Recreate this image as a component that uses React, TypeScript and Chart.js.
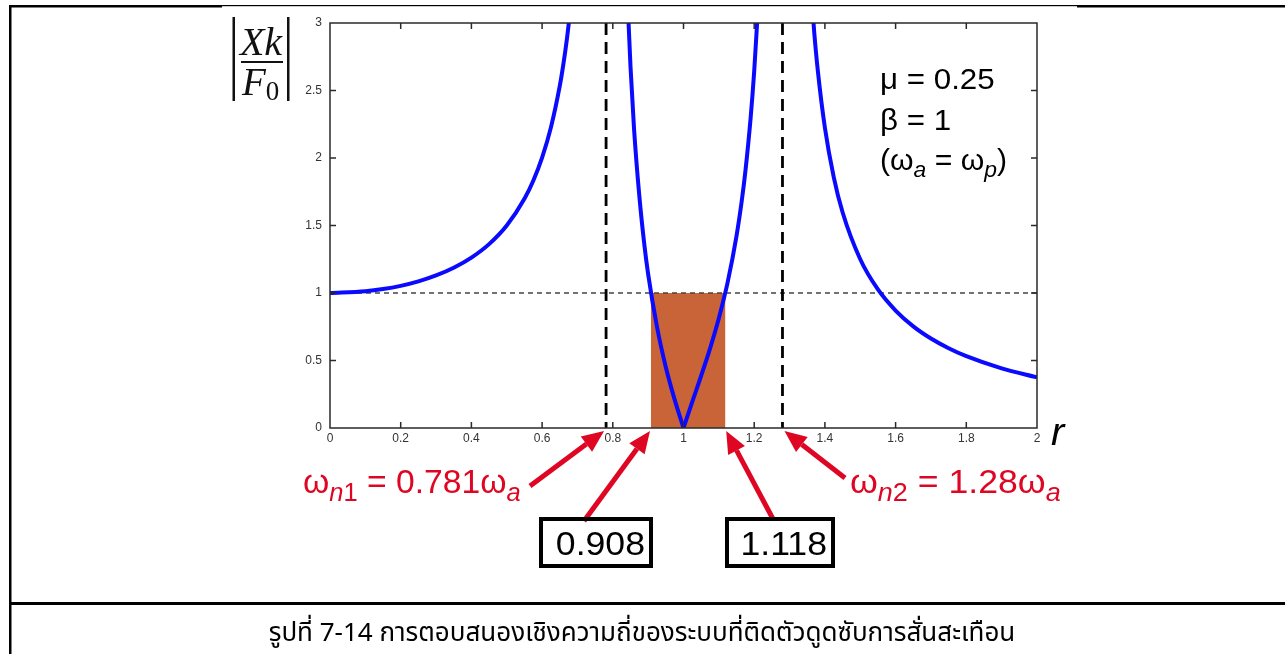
import React, { useEffect, useRef } from "react";
import { Chart, registerables } from "chart.js";

Chart.register(...registerables);

const PAGE_W = 1285;
const PAGE_H = 654;

// Frequency ratio r = ω/ωp and amplitude |Xk/F0|, one array pair per branch
const rLow = [0, 0.1, 0.15, 0.2, 0.25, 0.3, 0.35, 0.4, 0.45, 0.5, 0.55, 0.575, 0.6, 0.625, 0.65, 0.66, 0.67, 0.68];
const ampLow = [1.0, 1.013, 1.029, 1.053, 1.086, 1.13, 1.187, 1.262, 1.362, 1.5, 1.698, 1.832, 2.003, 2.227, 2.534, 2.692, 2.878, 3.1];
const rMidFall = [0.84, 0.85, 0.86, 0.875, 0.89, 0.9, 0.925, 0.95, 0.975, 1.0];
const ampMidFall = [3.28, 2.68, 2.22, 1.72, 1.34, 1.14, 0.75, 0.45, 0.21, 0];
const rMidRise = [1.0, 1.025, 1.05, 1.075, 1.1, 1.125, 1.15, 1.165, 1.175, 1.19, 1.2, 1.21];
const ampMidRise = [0, 0.195, 0.387, 0.588, 0.813, 1.08, 1.423, 1.687, 1.9, 2.3, 2.644, 3.08];
const rHigh = [1.36, 1.37, 1.38, 1.4, 1.425, 1.45, 1.5, 1.55, 1.6, 1.65, 1.7, 1.75, 1.8, 1.9, 2.0];
const ampHigh = [3.275, 2.925, 2.646, 2.224, 1.859, 1.598, 1.25, 1.026, 0.87, 0.753, 0.663, 0.591, 0.532, 0.442, 0.375];

// Axis ticks
const rTicks = [0, 0.2, 0.4, 0.6, 0.8, 1, 1.2, 1.4, 1.6, 1.8, 2];
const ampTicks = [0, 0.5, 1, 1.5, 2, 2.5, 3];

// Natural frequencies ωn1/ωa, ωn2/ωa and the band where |Xk/F0| ≤ 1
const naturalFreqs = [0.781, 1.28];
const naturalLabels = ["0.781", "1.28"];
const bandEdges = [0.908, 1.118];
const bandLevel = 1;

const RED = "#de0623";
const BLUE = "#0a0aff";
const SANS = "'Liberation Sans', Arial, Helvetica, sans-serif";
const SERIF = "'Liberation Serif', 'Times New Roman', serif";

const pts = (xs: number[], ys: number[]) => xs.map((x, i) => ({ x, y: ys[i] }));

type Run = { t: string; f: string; dy?: number };

// Draws a sequence of differently styled text runs; sx widens glyphs horizontally
function drawRuns(ctx: CanvasRenderingContext2D, runs: Run[], x: number, y: number, color: string, sx = 1) {
  ctx.save();
  ctx.translate(x, y);
  ctx.scale(sx, 1);
  ctx.fillStyle = color;
  ctx.textAlign = "left";
  ctx.textBaseline = "alphabetic";
  let cx = 0;
  for (const r of runs) {
    ctx.font = r.f;
    ctx.fillText(r.t, cx, r.dy || 0);
    cx += ctx.measureText(r.t).width;
  }
  ctx.restore();
  return cx * sx;
}

function arrow(ctx: CanvasRenderingContext2D, x1: number, y1: number, x2: number, y2: number) {
  const ang = Math.atan2(y2 - y1, x2 - x1);
  const headLen = 22;
  const headHalf = 9.5;
  const bx = x2 - headLen * Math.cos(ang);
  const by = y2 - headLen * Math.sin(ang);
  ctx.save();
  ctx.strokeStyle = RED;
  ctx.fillStyle = RED;
  ctx.lineWidth = 5;
  ctx.lineCap = "butt";
  ctx.beginPath();
  ctx.moveTo(x1, y1);
  ctx.lineTo(bx, by);
  ctx.stroke();
  ctx.beginPath();
  ctx.moveTo(x2, y2);
  ctx.lineTo(bx + headHalf * Math.sin(ang), by - headHalf * Math.cos(ang));
  ctx.lineTo(bx - headHalf * Math.sin(ang), by + headHalf * Math.cos(ang));
  ctx.closePath();
  ctx.fill();
  ctx.restore();
}

const figurePlugin = {
  id: "figureDecor",
  beforeDatasetsDraw(chart: any) {
    const { ctx, chartArea: a, scales } = chart;
    const xs = scales.x;
    const ys = scales.y;
    ctx.save();
    // band between the two crossings of |Xk/F0| = 1
    ctx.fillStyle = "#c96438";
    const bx0 = xs.getPixelForValue(bandEdges[0]);
    const bx1 = xs.getPixelForValue(bandEdges[1]);
    const by0 = ys.getPixelForValue(0);
    const by1 = ys.getPixelForValue(bandLevel);
    ctx.fillRect(bx0, by1, bx1 - bx0, by0 - by1);
    // reference level |Xk/F0| = 1
    ctx.strokeStyle = "#444";
    ctx.lineWidth = 1.3;
    ctx.setLineDash([5, 4]);
    ctx.beginPath();
    ctx.moveTo(a.left, by1);
    ctx.lineTo(a.right, by1);
    ctx.stroke();
    // natural frequencies
    ctx.strokeStyle = "#000";
    ctx.lineWidth = 2.8;
    ctx.setLineDash([12, 7]);
    for (const f of naturalFreqs) {
      const px = xs.getPixelForValue(f);
      ctx.beginPath();
      ctx.moveTo(px, a.top);
      ctx.lineTo(px, a.bottom);
      ctx.stroke();
    }
    ctx.restore();
  },
  afterDatasetsDraw(chart: any) {
    const { ctx, chartArea: a, scales } = chart;
    const xs = scales.x;
    const ys = scales.y;
    ctx.save();
    ctx.strokeStyle = "#2a2a2a";
    ctx.lineWidth = 1.5;
    ctx.setLineDash([]);
    ctx.strokeRect(a.left, a.top, a.right - a.left, a.bottom - a.top);
    ctx.beginPath();
    for (const t of rTicks.slice(1, -1)) {
      const px = xs.getPixelForValue(t);
      ctx.moveTo(px, a.bottom);
      ctx.lineTo(px, a.bottom - 6);
      ctx.moveTo(px, a.top);
      ctx.lineTo(px, a.top + 6);
    }
    for (const t of ampTicks.slice(1, -1)) {
      const py = ys.getPixelForValue(t);
      ctx.moveTo(a.left, py);
      ctx.lineTo(a.left + 6, py);
      ctx.moveTo(a.right, py);
      ctx.lineTo(a.right - 6, py);
    }
    ctx.stroke();
    ctx.restore();
  },
  afterDraw(chart: any) {
    const { ctx, chartArea: a, scales } = chart;
    const xs = scales.x;
    const y0 = scales.y.getPixelForValue(0);
    ctx.save();

    // page frame and caption divider
    ctx.fillStyle = "#000";
    ctx.fillRect(9, 5, 213, 2.5);
    ctx.fillRect(222, 5, 855, 1.2);
    ctx.fillRect(1077, 5, PAGE_W - 1077, 2.5);
    ctx.fillRect(9, 5, 2.5, PAGE_H - 5);
    ctx.fillRect(9, 602, PAGE_W - 9, 3);

    // y-axis label |Xk / F0|
    ctx.fillStyle = "#111";
    ctx.fillRect(232.5, 17, 2.5, 84);
    ctx.fillRect(287, 17, 2.5, 84);
    ctx.fillRect(241, 61, 42, 2);
    ctx.textAlign = "center";
    ctx.textBaseline = "alphabetic";
    ctx.font = `italic 40px ${SERIF}`;
    ctx.fillText("Xk", 261, 55);
    drawRuns(ctx, [
      { t: "F", f: `italic 39px ${SERIF}` },
      { t: "0", f: `27px ${SERIF}`, dy: 5 },
    ], 242, 95, "#111");

    // x-axis label
    drawRuns(ctx, [{ t: "r", f: `italic 38px ${SANS}` }], a.right + 14, y0 + 17, "#000", 1.05);

    // parameters
    const pf = `29px ${SANS}`;
    const ps = `italic 22px ${SANS}`;
    drawRuns(ctx, [{ t: "μ = 0.25", f: pf }], 880, 89, "#000", 1.08);
    drawRuns(ctx, [{ t: "β = 1", f: pf }], 880, 130, "#000", 1.08);
    drawRuns(ctx, [
      { t: "(ω", f: pf },
      { t: "a", f: ps, dy: 7 },
      { t: " = ω", f: pf },
      { t: "p", f: ps, dy: 7 },
      { t: ")", f: pf },
    ], 880, 170, "#000", 1.04);

    // natural-frequency callouts
    const rf = `33px ${SANS}`;
    const rs = `italic 25px ${SANS}`;
    const rsu = `25px ${SANS}`;
    const n1 = xs.getPixelForValue(naturalFreqs[0]);
    const n2 = xs.getPixelForValue(naturalFreqs[1]);
    drawRuns(ctx, [
      { t: "ω", f: rf },
      { t: "n", f: rs, dy: 8 },
      { t: "1", f: rsu, dy: 8 },
      { t: ` = ${naturalLabels[0]}ω`, f: rf },
      { t: "a", f: rs, dy: 8 },
    ], 303, 493, RED, 1.02);
    drawRuns(ctx, [
      { t: "ω", f: rf },
      { t: "n", f: rs, dy: 8 },
      { t: "2", f: rsu, dy: 8 },
      { t: ` = ${naturalLabels[1]}ω`, f: rf },
      { t: "a", f: rs, dy: 8 },
    ], 850, 493, RED, 1.08);
    arrow(ctx, 530, 486, n1 - 2, y0 + 3);
    arrow(ctx, 845, 478, n2 + 2, y0 + 3);

    // band edge callouts
    const e1 = xs.getPixelForValue(bandEdges[0]);
    const e2 = xs.getPixelForValue(bandEdges[1]);
    arrow(ctx, 584, 521, e1 - 1, y0 + 3);
    arrow(ctx, 773, 519, e2 + 1, y0 + 3);
    const boxes = [
      { x: 541, w: 110, label: String(bandEdges[0]) },
      { x: 727, w: 106, label: String(bandEdges[1]) },
    ];
    ctx.lineWidth = 4;
    ctx.strokeStyle = "#000";
    for (const b of boxes) {
      ctx.strokeRect(b.x, 519, b.w, 47);
      ctx.font = `33px ${SANS}`;
      const w = ctx.measureText(b.label).width * 1.08;
      drawRuns(ctx, [{ t: b.label, f: `33px ${SANS}` }], b.x + b.w - 6 - w, 555, "#000", 1.08);
    }

    // caption
    ctx.font = `26px 'Noto Sans Thai', 'Tahoma', 'DejaVu Sans', sans-serif`;
    ctx.fillStyle = "#000";
    ctx.textAlign = "center";
    ctx.textBaseline = "alphabetic";
    ctx.fillText("รูปที่ 7-14 การตอบสนองเชิงความถี่ของระบบที่ติดตัวดูดซับการสั่นสะเทือน", 642, 641);

    ctx.restore();
  },
};

export default function App() {
  const ref = useRef<HTMLCanvasElement>(null);

  useEffect(() => {
    const canvas = ref.current;
    if (!canvas) return;
    const lineSet = (data: { x: number; y: number }[]) => ({
      data,
      borderColor: BLUE,
      borderWidth: 4,
      pointRadius: 0,
      fill: false,
      cubicInterpolationMode: "monotone" as const,
    });
    const tickFont = { family: SANS, size: 12 };
    const chart = new Chart(canvas, {
      type: "line",
      data: {
        datasets: [
          lineSet(pts(rLow, ampLow)),
          lineSet(pts(rMidFall, ampMidFall)),
          lineSet(pts(rMidRise, ampMidRise)),
          lineSet(pts(rHigh, ampHigh)),
        ],
      },
      options: {
        animation: false,
        responsive: false,
        devicePixelRatio: 1,
        layout: { padding: { left: 300, right: 248, top: 23, bottom: 206 } },
        plugins: { legend: { display: false }, tooltip: { enabled: false } },
        scales: {
          x: {
            type: "linear",
            min: 0,
            max: 2,
            grid: { display: false, drawTicks: false },
            border: { display: false },
            afterBuildTicks: (s: any) => {
              s.ticks = rTicks.map((v) => ({ value: v }));
            },
            afterFit: (s: any) => {
              s.height = 20;
            },
            ticks: {
              font: tickFont,
              color: "#333",
              padding: 3,
              maxRotation: 0,
              autoSkip: false,
              callback: (v: any) => String(v),
            },
          },
          y: {
            type: "linear",
            min: 0,
            max: 3,
            grid: { display: false, drawTicks: false },
            border: { display: false },
            afterBuildTicks: (s: any) => {
              s.ticks = ampTicks.map((v) => ({ value: v }));
            },
            afterFit: (s: any) => {
              s.width = 30;
            },
            ticks: {
              font: tickFont,
              color: "#333",
              padding: 8,
              autoSkip: false,
              callback: (v: any) => String(v),
            },
          },
        },
      },
      plugins: [figurePlugin],
    });
    return () => chart.destroy();
  }, []);

  return (
    <div style={{ position: "absolute", left: 0, top: 0, width: PAGE_W, height: PAGE_H, background: "#fff" }}>
      <canvas ref={ref} width={PAGE_W} height={PAGE_H} style={{ display: "block" }} />
    </div>
  );
}
